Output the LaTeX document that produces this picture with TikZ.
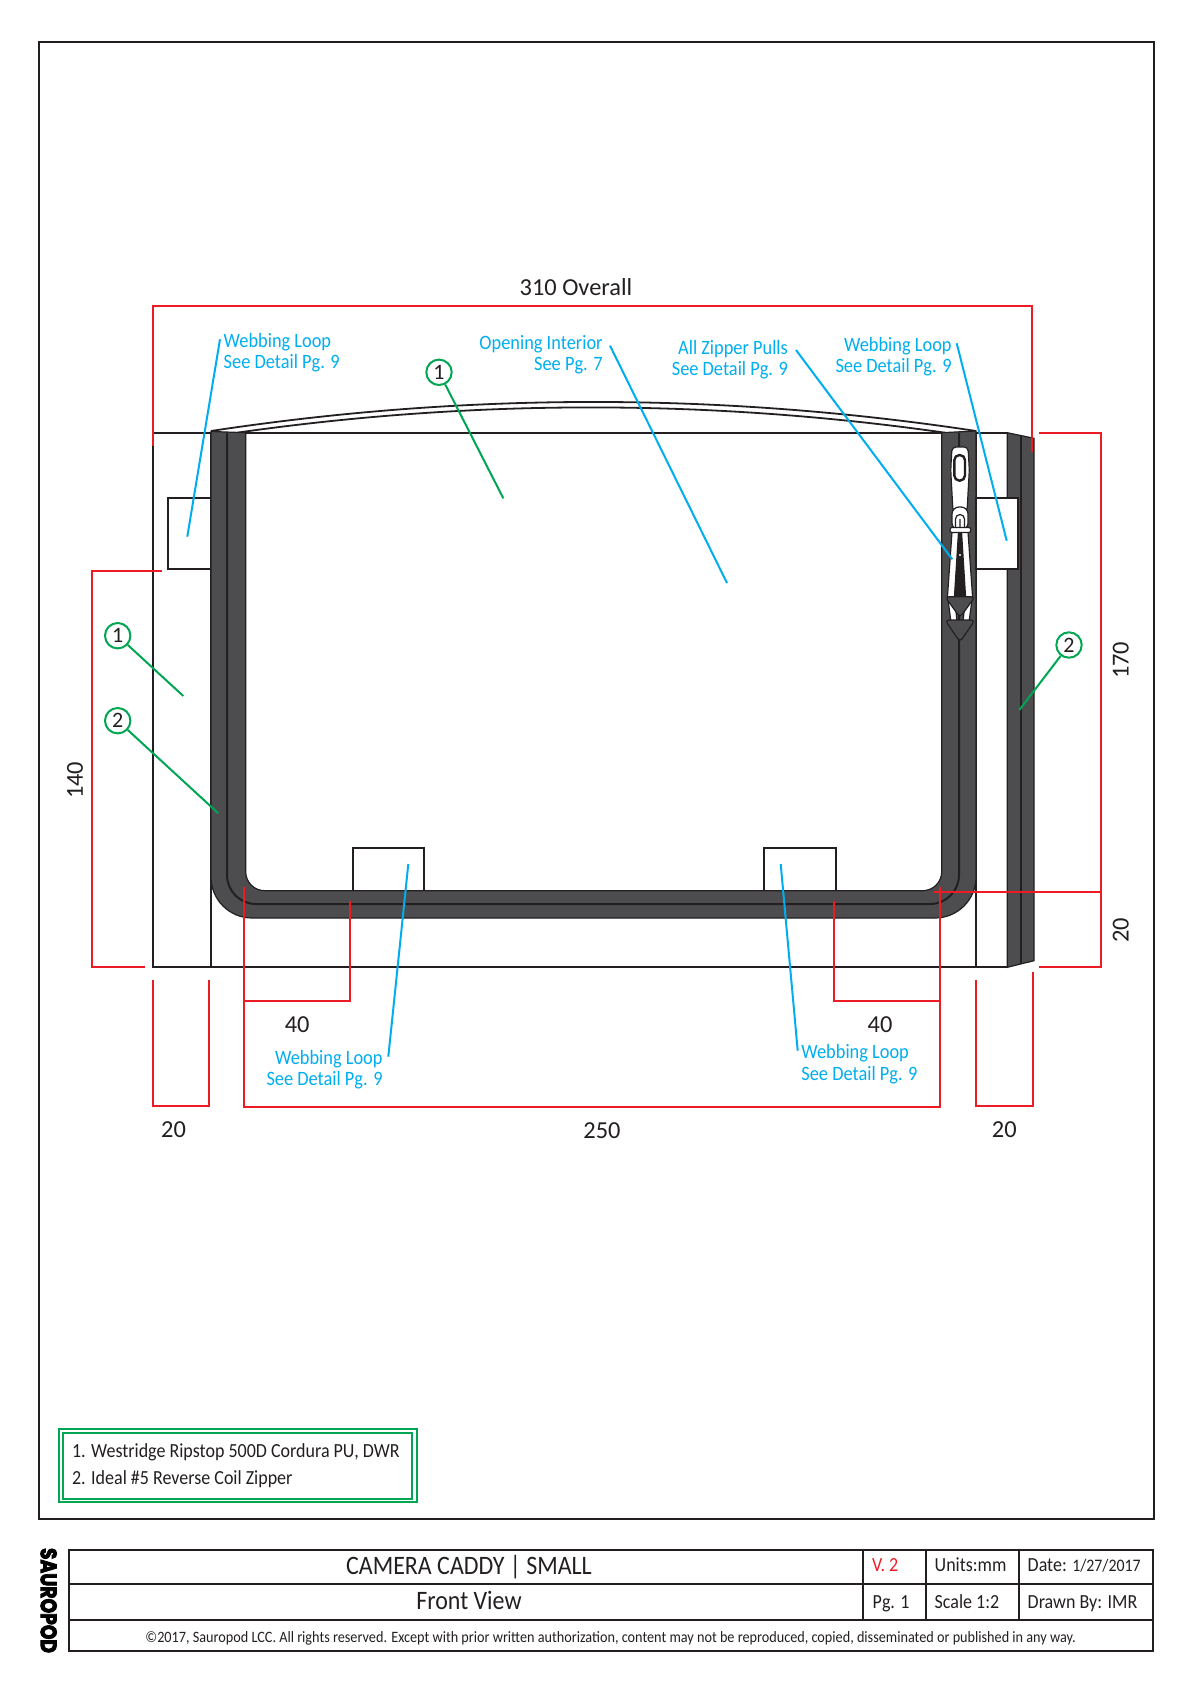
\documentclass[tikz,border=0pt]{standalone}
\usepackage{fontspec}
\usepackage{graphicx}
\setmainfont{Carlito}
\newfontfamily\narrowfont{Carlito}[FakeStretch=0.9]
\newfontfamily\logofont{Poppins}[BoldFeatures={FakeBold=4}]
\definecolor{inkblack}{HTML}{231F20}
\definecolor{zipgrey}{HTML}{4D4D4F}
\definecolor{dimred}{HTML}{ED1C24}
\definecolor{noteblue}{HTML}{00AEEF}
\definecolor{matgreen}{HTML}{00A651}
\newcommand{\dimsize}{\fontsize{12.2}{13}\selectfont}
\newcommand{\notesize}{\narrowfont\fontsize{10.2}{10.8}\selectfont}
\newcommand{\blocksize}{\narrowfont\fontsize{10}{10}\selectfont}
\newcommand{\titlesize}{\narrowfont\fontsize{13.3}{13}\selectfont}
\tikzset{
  outline/.style = {draw = inkblack, line width = 1pt},
  dimline/.style = {draw = dimred, line width = 0.9pt},
  noteline/.style = {draw = noteblue, line width = 1pt},
  matline/.style = {draw = matgreen, line width = 1pt},
  dimtext/.style = {inner sep = 0pt, text = inkblack, font = \dimsize},
  notetext/.style = {inner sep = 0pt, text = noteblue, font = \notesize},
  matcircle/.style = {circle, draw = matgreen, line width = 1pt, fill = white, minimum size = 12.7pt, inner sep = 0pt, text = inkblack, font = \fontsize{11}{11}\selectfont},
  blocktext/.style = {inner sep = 0pt, text = inkblack, anchor = base west, font = \blocksize},
  titletext/.style = {inner sep = 0pt, text = inkblack, anchor = base, font = \titlesize},
  zipfill/.style = {fill = zipgrey, draw = inkblack, line width = 0.6pt},
  pullpart/.style = {fill = white, draw = inkblack, line width = 0.6pt}
}
\begin{document}
\begin{tikzpicture}[x = 0.5pt, y = -0.5pt]
\useasboundingbox (0,0) rectangle (1191,1684);

\draw [outline] (39.3,42) rectangle (1154,1518.7);

\draw [outline] (152.7,445) -- (152.7,967.3) -- (1007.3,967.3);
\draw [outline] (152.7,432.7) -- (1007.3,432.7);
\draw [outline] (211,432.7) -- (211,967.3);
\draw [draw = inkblack, line width = 0.6pt] (976,432.7) -- (976,967.3);
\draw [outline, line width = 0.9pt] (211,431) .. controls (465.7,392.3) and (721,392.3) .. (976,431);
\draw [outline, line width = 0.9pt] (237,432.7) .. controls (473,399) and (709,399) .. (945,432.7);

\draw [outline, fill = white] (167.7,498.3) rectangle (211,569.3);
\draw [outline, fill = white] (352.7,847.7) rectangle (424,890.7);
\draw [outline, fill = white] (764.3,847.7) rectangle (835.7,890.7);

\draw [zipfill] (211,431.5) -- (211,877) arc [start angle = 180, end angle = 90, radius = 41] -- (935,918) arc [start angle = 90, end angle = 0, radius = 41] -- (976,431) -- (941.7,432.7) -- (941.7,871.7) arc [start angle = 0, end angle = 90, radius = 19] -- (264.7,890.7) arc [start angle = 90, end angle = 180, radius = 19] -- (245.7,432.7) -- cycle;
\draw [outline] (227,432.7) -- (227,875) arc [start angle = 180, end angle = 90, radius = 29] -- (930,904) arc [start angle = 90, end angle = 0, radius = 29] -- (959,432.7);

\draw [zipfill] (1007.3,432.7) -- (1034,438.3) -- (1034,960.7) -- (1007.3,967.3) -- cycle;
\draw [outline] (1020.7,435.5) -- (1020.7,964);
\draw [outline, fill = white] (976,498.3) rectangle (1018.3,569);

\draw [pullpart] (951,622) -- (947.5,596) -- (952,532) -- (958.5,532) -- (954.5,596) -- (957,622) -- cycle;
\draw [pullpart] (969,622) -- (972.5,596) -- (968,532) -- (961.5,532) -- (965.5,596) -- (963,622) -- cycle;
\fill [inkblack] (958.5,532) -- (961.5,532) -- (965.5,596) -- (954.5,596) -- cycle;
\fill [white] (960,555) circle (1.2);
\draw [pullpart, rounded corners = 2pt] (950.7,470) -- (952,447) -- (968,447) -- (969.3,470) -- (967,512) -- (953,512) -- cycle;
\draw [pullpart, line width = 1.2pt, rounded corners = 2.6pt] (954.3,455) rectangle (965,480.7);
\draw [pullpart, rounded corners = 3.5pt] (952,530) -- (952,507) -- (968,507) -- (968,530) -- cycle;
\draw [draw = inkblack, line width = 0.6pt] (955.5,530) -- (955.5,519) arc [start angle = 180, end angle = 360, radius = 4.5] -- (964.5,530) (960,519) -- (960,530);
\draw [pullpart, rounded corners = 1pt] (950,527.5) rectangle (970.7,532.5);
\draw [zipfill, rounded corners = 2pt] (945,596.7) -- (975,596.7) -- (960,617.5) -- cycle;
\draw [zipfill, rounded corners = 2pt] (945,620) -- (975,620) -- (960,642) -- cycle;

\draw [dimline] (152.7,445.7) -- (152.7,305.7) -- (1031.7,305.7) -- (1031.7,451.7);
\draw [dimline] (161.7,570.7) -- (91.7,570.7) -- (91.7,967.3) -- (145.3,967.3);
\draw [dimline] (1039.3,432.7) -- (1101.3,432.7) -- (1101.3,967.3) -- (1039.3,967.3);
\draw [dimline] (934,892.3) -- (1101.3,892.3);
\draw [dimline] (152.7,980) -- (152.7,1106) -- (209.3,1106) -- (209.3,980);
\draw [dimline] (976,980) -- (976,1106) -- (1033,1106) -- (1033,972);
\draw [dimline] (244.3,887) -- (244.3,1106.7) -- (940.3,1106.7) -- (940.3,886.7);
\draw [dimline] (244.3,1001.3) -- (350.3,1001.3) -- (350.3,901);
\draw [dimline] (940.3,1001.3) -- (834.3,1001.3) -- (834.3,901);

\node [dimtext, anchor = base] (overall) at (576,296) {310 Overall};
\node [dimtext, rotate = 90] (dimleft) at (75,780.3) {140};
\node [dimtext, rotate = 90] (dimright) at (1120.7,660.3) {170};
\node [dimtext, rotate = 90] (dimrightlow) at (1120.7,930) {20};
\node [dimtext] (dimloopl) at (297.2,1025) {40};
\node [dimtext] (dimloopr) at (880,1025) {40};
\node [dimtext] (dimbagl) at (173.5,1130) {20};
\node [dimtext] (dimwidth) at (602,1131) {250};
\node [dimtext] (dimbagr) at (1004.3,1130) {20};

\node [notetext, anchor = base west, align = left] (notetl) at (223.3,368.7) {Webbing Loop\\See Detail Pg. 9};
\node [notetext, anchor = base east, align = right] (notein) at (603,371) {Opening Interior\\See Pg. 7};
\node [notetext, anchor = base east, align = right] (notepull) at (788.3,376) {All Zipper Pulls\\See Detail Pg. 9};
\node [notetext, anchor = base east, align = right] (notetr) at (952,372.7) {Webbing Loop\\See Detail Pg. 9};
\node [notetext, anchor = base east, align = right] (notebl) at (383,1085.7) {Webbing Loop\\See Detail Pg. 9};
\node [notetext, anchor = base west, align = left] (notebr) at (801,1080) {Webbing Loop\\See Detail Pg. 9};

\coordinate (tla) at (220,339.3);
\coordinate (tlb) at (187.3,536.7);
\coordinate (ina) at (610,345.7);
\coordinate (inb) at (727,583);
\coordinate (pulla) at (796,350);
\coordinate (pullb) at (952.3,559.3);
\coordinate (tra) at (956.7,343.3);
\coordinate (trb) at (1006.7,540.7);
\coordinate (bla) at (408.3,864);
\coordinate (blb) at (388.3,1056.7);
\coordinate (bra) at (780.7,864);
\coordinate (brb) at (797.7,1050.7);
\draw [noteline] (tla) edge (tlb);
\draw [noteline] (ina) edge (inb);
\draw [noteline] (pulla) edge (pullb);
\draw [noteline] (tra) edge (trb);
\draw [noteline] (bla) edge (blb);
\draw [noteline] (bra) edge (brb);

\node [matcircle] (matop) at (439,372.3) {1};
\node [matcircle] (matl) at (117.7,635.7) {1};
\node [matcircle] (zipl) at (117.7,720.7) {2};
\node [matcircle] (zipr) at (1069,645) {2};
\coordinate (matopend) at (503.3,498.3);
\coordinate (matlend) at (183.3,696);
\coordinate (ziplend) at (218.3,813.3);
\coordinate (ziprend) at (1019.3,710);
\draw [matline] (matop) edge (matopend);
\draw [matline] (matl) edge (matlend);
\draw [matline] (zipl) edge (ziplend);
\draw [matline] (zipr) edge (ziprend);

\draw [matline] (59.3,1429) rectangle (416.7,1502.3);
\draw [matline] (63.3,1432.7) rectangle (412.3,1498.7);
\node [blocktext] (legendone) at (71.7,1457.2) {1. Westridge Ripstop 500D Cordura PU, DWR};
\node [blocktext] (legendtwo) at (71.7,1484.5) {2. Ideal \#5 Reverse Coil Zipper};

\draw [outline] (69,1549.5) rectangle (1153.3,1651.2);
\draw [outline] (69,1583.7) -- (1153.3,1583.7);
\draw [outline] (69,1619.7) -- (1153.3,1619.7);
\draw [outline] (863.3,1549.5) -- (863.3,1619.7);
\draw [outline] (925.7,1549.5) -- (925.7,1619.7);
\draw [outline] (1019,1549.5) -- (1019,1619.7);

\node [inner sep = 0pt, rotate = -90] (logo) at (48.7,1600.5) {\resizebox{52.5pt}{8pt}{\logofont\bfseries SAUROPOD}};
\node [titletext] (title) at (469,1574) {CAMERA CADDY | SMALL};
\node [titletext] (view) at (469,1609) {Front View};
\node [blocktext, text = dimred] (version) at (871.7,1571.7) {V. 2};
\node [blocktext] (units) at (934.3,1571.7) {Units:mm};
\node [blocktext] (date) at (1027.3,1571.7) {Date: \fontsize{8.8}{10}\selectfont 1/27/2017};
\node [blocktext] (page) at (872.3,1608.7) {Pg. 1};
\node [blocktext] (ratio) at (934.3,1608.7) {Scale 1:2};
\node [blocktext] (drawn) at (1027.3,1608.7) {Drawn By: IMR};
\node [blocktext, font = \narrowfont\fontsize{7.9}{8}\selectfont] (rights) at (145,1642.2) {©2017, Sauropod LCC. All rights reserved. Except with prior written authorization, content may not be reproduced, copied, disseminated or published in any way.};
\end{tikzpicture}
\end{document}
